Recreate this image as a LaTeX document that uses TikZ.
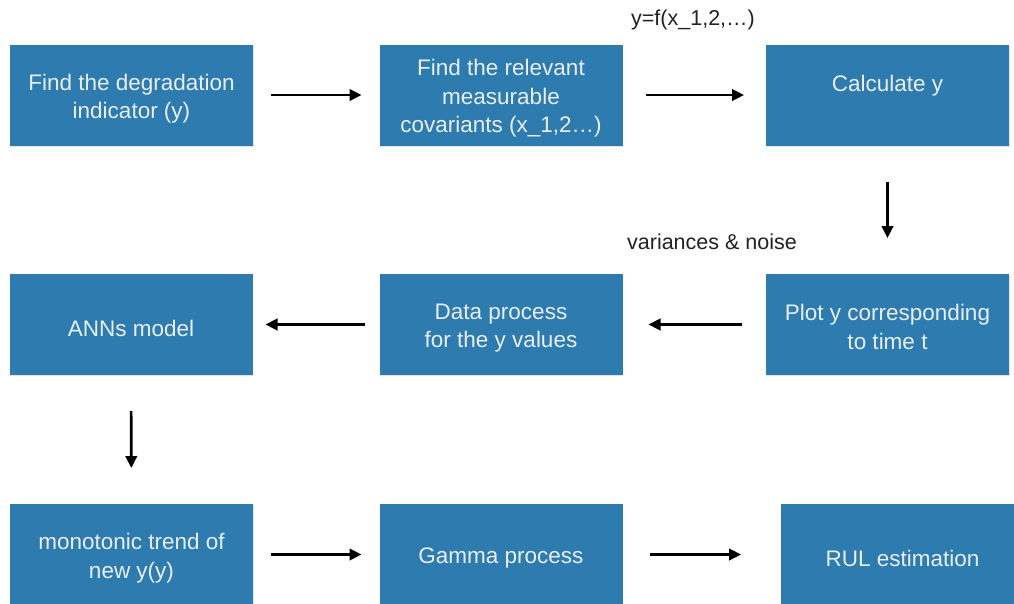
\documentclass[tikz,border=0pt]{standalone}
\usepackage{fontspec}
\setmainfont{Liberation Sans}
\usetikzlibrary{arrows.meta,shadows}
\definecolor{boxblue}{HTML}{2E7BAF}
\definecolor{boxtext}{HTML}{E8EFF6}
\definecolor{labeltext}{HTML}{222222}
\tikzset{
  stepbox/.style={fill=boxblue, text=boxtext, minimum width=243pt, minimum height=101pt,
    inner sep=0pt, outer sep=0pt, align=center,
    font=\fontsize{22.5}{28.5}\selectfont,
    drop shadow={opacity=0.22, shadow xshift=0.8pt, shadow yshift=-1.2pt}},
  boxtextpos/.style={inner sep=0pt, text=boxtext, align=center,
    font=\fontsize{22.5}{28.5}\selectfont, yshift=-3.5pt},
  flow/.style={draw=black, line width=2.6pt, -{Triangle[length=12pt,width=11.5pt]}},
  note/.style={text=labeltext, font=\fontsize{21.5}{25}\selectfont, inner sep=0pt}
}
\begin{document}
\begin{tikzpicture}[x=1pt,y=-1pt]
\useasboundingbox (0,0) rectangle (1014,603);
% first row
\node[stepbox] (indicator) at (131.5,95) {};
\node[stepbox] (covariants) at (501,95) {};
\node[stepbox] (calc) at (887.5,95) {};
% second row
\node[stepbox] (ann) at (131,324.5) {};
\node[stepbox] (dataproc) at (501,324.5) {};
\node[stepbox] (plot) at (887.5,324.5) {};
% third row
\node[stepbox] (trend) at (131.5,554.5) {};
\node[stepbox] (gamma) at (501,554.5) {};
\node[stepbox] (rul) at (902.5,554.5) {};
% box captions
\node[boxtextpos] (tindicator) at (indicator) {Find the degradation\\indicator (y)};
\node[boxtextpos] (tcovariants) at (covariants) {Find the relevant\\measurable\\covariants (x\_1,2…)};
\node[boxtextpos, yshift=12.5pt] (tcalc) at (calc) {Calculate y};
\node[boxtextpos] (tann) at (ann) {ANNs model};
\node[boxtextpos] (tdataproc) at (dataproc) {Data process\\for the y values};
\node[boxtextpos, yshift=1pt] (tplot) at (plot) {Plot y corresponding\\to time t};
\node[boxtextpos] (ttrend) at (trend) {monotonic trend of\\new y(y)};
\node[boxtextpos] (tgamma) at (gamma) {Gamma process};
\node[boxtextpos] (trul) at (rul) {RUL estimation};
% annotations
\node[note] (fnote) at (693,20) {y=f(x\_1,2,…)};
\node[note] (vnote) at (712,242) {variances \& noise};
% connectors
\draw[flow, shorten <=18pt, shorten >=18pt] (indicator) -- (covariants);
\draw[flow, shorten <=23pt, shorten >=22pt] (covariants) -- (calc);
\draw[flow, shorten <=36pt, shorten >=36pt] (calc) -- (plot);
\draw[flow, shorten <=24pt, shorten >=26pt] (plot) -- (dataproc);
\draw[flow, shorten <=15pt, shorten >=13pt] (dataproc) -- (ann);
\draw[flow, shorten <=36pt, shorten >=36pt] (ann) -- (trend);
\draw[flow, shorten <=18pt, shorten >=18pt] (trend) -- (gamma);
\draw[flow, shorten <=27pt, shorten >=40pt] (gamma) -- (rul);
\end{tikzpicture}
\end{document}
